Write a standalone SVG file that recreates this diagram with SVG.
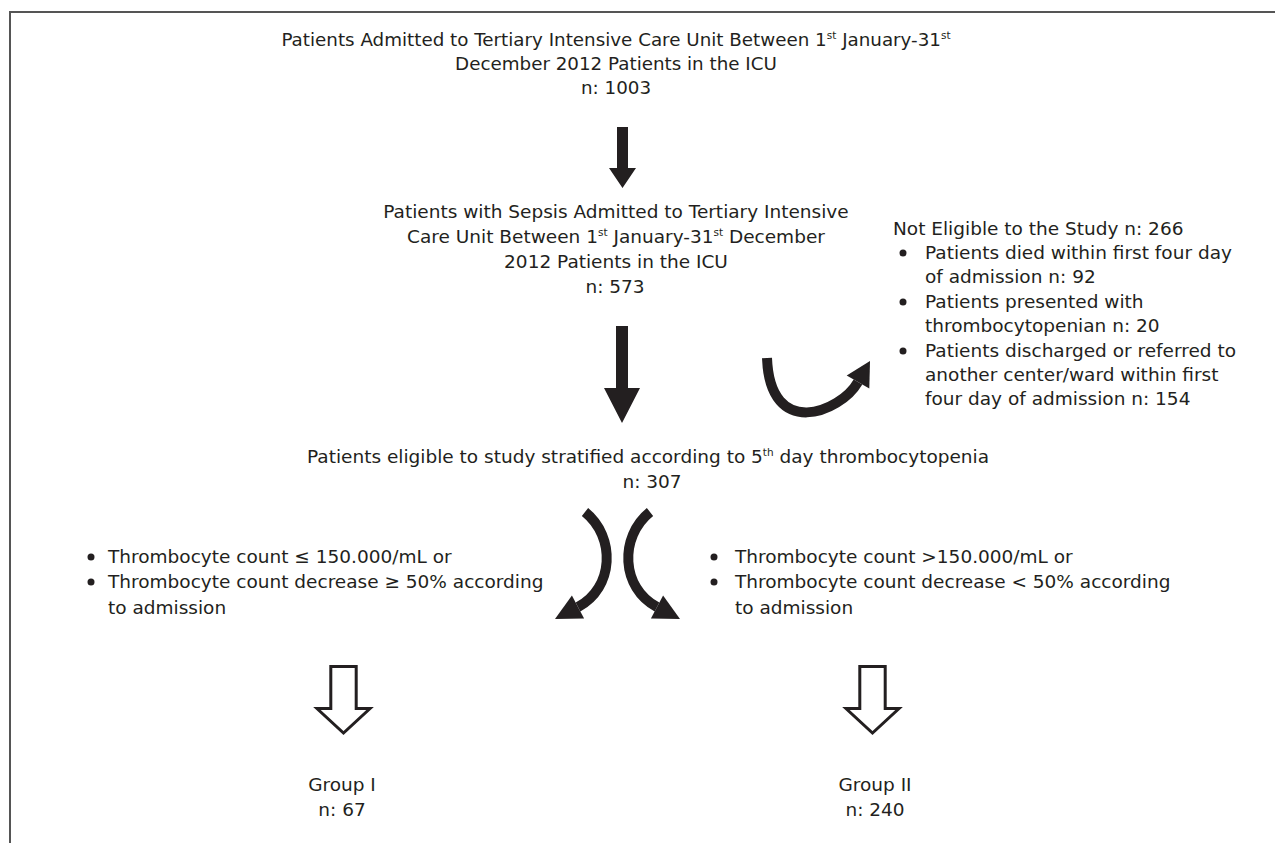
<svg xmlns="http://www.w3.org/2000/svg" width="1275" height="843" viewBox="0 0 1275 843">
<style>
text{font-family:"DejaVu Sans","Open Sans","Liberation Sans",sans-serif;font-size:18.5px;fill:#231f20}
.t{font-size:18.3px}
.c{text-anchor:middle}
.sup{font-size:10.5px}
.frame{stroke:#555;stroke-width:2;fill:none}
.arc{fill:none;stroke:#231f20;stroke-width:10}
.blk{fill:#231f20}
.hol{fill:#fff;stroke:#231f20;stroke-width:3;stroke-linejoin:miter;stroke-miterlimit:10}
</style>
<rect width="1275" height="843" fill="#fff"/>
<path class="frame" d="M10 843 V12 H1275"/>

<g id="n1">
<text class="c t" x="616" y="46">Patients Admitted to Tertiary Intensive Care Unit Between 1<tspan class="sup" dy="-7">st</tspan><tspan dy="7"> January-31</tspan><tspan class="sup" dy="-7">st</tspan></text>
<text class="c t" x="616" y="70">December 2012 Patients in the ICU</text>
<text class="c t" x="616" y="94">n: 1003</text>
</g>

<g id="n2">
<text class="c" x="616" y="218">Patients with Sepsis Admitted to Tertiary Intensive</text>
<text class="c" x="616" y="243">Care Unit Between 1<tspan class="sup" dy="-7">st</tspan><tspan dy="7"> January-31</tspan><tspan class="sup" dy="-7">st</tspan><tspan dy="7"> December</tspan></text>
<text class="c" x="616" y="268">2012 Patients in the ICU</text>
<text class="c" x="615" y="293">n: 573</text>
</g>

<g id="n3">
<text x="893" y="235">Not Eligible to the Study n: 266</text>
<circle class="blk" cx="903" cy="253" r="3.5"/>
<text x="925" y="259">Patients died within first four day</text>
<text x="925" y="283">of admission n: 92</text>
<circle class="blk" cx="903" cy="302" r="3.5"/>
<text x="925" y="308">Patients presented with</text>
<text x="925" y="332">thrombocytopenian n: 20</text>
<circle class="blk" cx="903" cy="351" r="3.5"/>
<text x="925" y="357">Patients discharged or referred to</text>
<text x="925" y="381">another center/ward within first</text>
<text x="925" y="405">four day of admission n: 154</text>
</g>

<g id="n4">
<text class="c" x="648" y="463">Patients eligible to study stratified according to 5<tspan class="sup" dy="-7">th</tspan><tspan dy="7"> day thrombocytopenia</tspan></text>
<text class="c" x="652" y="488">n: 307</text>
</g>

<g id="n5">
<circle class="blk" cx="91" cy="557" r="3.5"/>
<text x="108" y="563">Thrombocyte count ≤ 150.000/mL or</text>
<circle class="blk" cx="91" cy="582" r="3.5"/>
<text x="108" y="588">Thrombocyte count decrease ≥ 50% according</text>
<text x="108" y="614">to admission</text>
</g>

<g id="n6">
<circle class="blk" cx="714" cy="557" r="3.5"/>
<text x="735" y="563">Thrombocyte count &gt;150.000/mL or</text>
<circle class="blk" cx="714" cy="582" r="3.5"/>
<text x="735" y="588">Thrombocyte count decrease &lt; 50% according</text>
<text x="735" y="614">to admission</text>
</g>

<g id="n7">
<text class="c" x="342" y="791">Group I</text>
<text class="c" x="342" y="816">n: 67</text>
</g>

<g id="n8">
<text class="c" x="875" y="791">Group II</text>
<text class="c" x="875" y="816">n: 240</text>
</g>

<g id="connectors">
<polygon class="blk" points="617,127 628,127 628,168 636,168 622.5,188 609,168 617,168"/>
<polygon class="blk" points="616,326 628,326 628,388 640,388 622,423 604,388 616,388"/>
<path class="arc" d="M767 358 C770 440 840 413 858 382"/>
<polygon class="blk" points="870,361 869.3,388.5 846.7,375.5"/>
<path class="arc" d="M585 512 C616 537 614 588 578 607"/>
<polygon class="blk" points="555,619 584.1,618.5 571.9,595.5"/>
<path class="arc" d="M650 512 C619 537 621 588 657 607"/>
<polygon class="blk" points="680,619 650.9,618.5 663.1,595.5"/>
<polygon class="hol" points="330.8,666.5 356.2,666.5 356.2,708.5 370,708.5 343.5,733 317,708.5 330.8,708.5"/>
<polygon class="hol" points="859.8,666.5 885.2,666.5 885.2,708.5 899,708.5 872.5,733 846,708.5 859.8,708.5"/>
</g>
</svg>
